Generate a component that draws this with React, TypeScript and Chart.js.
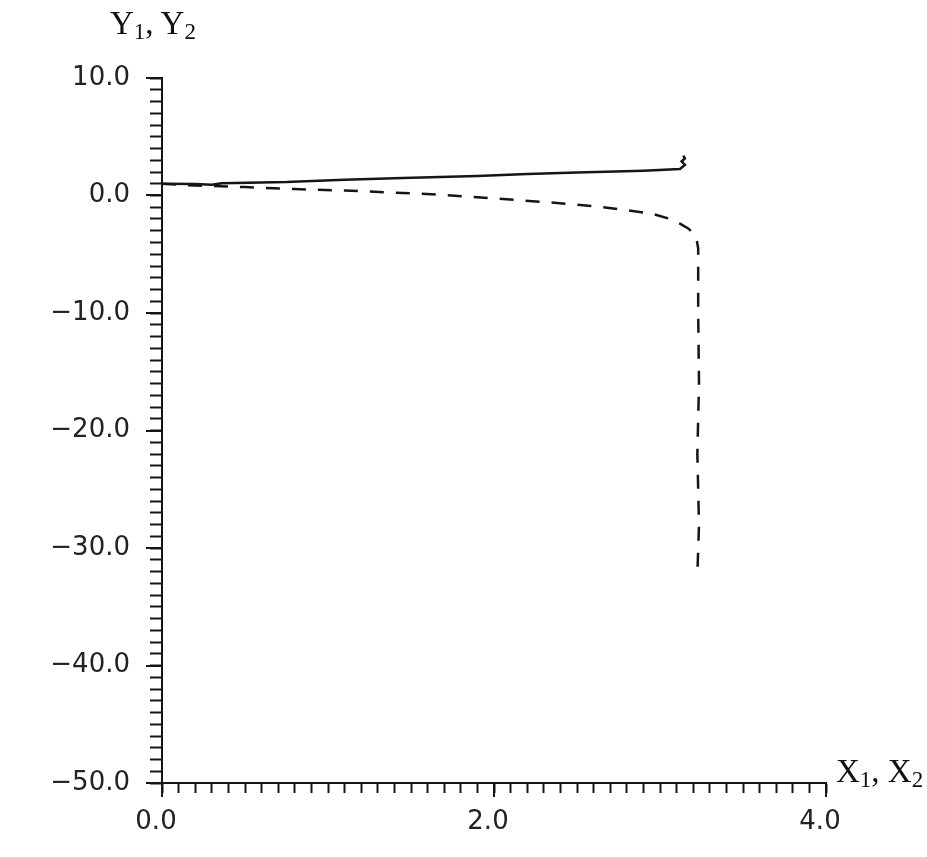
import React, { useEffect, useRef } from "react";
import { Chart, registerables } from "chart.js";

Chart.register(...registerables);

// Y1 (solid) series
const x1Values = [0, 0.2, 0.3, 0.36, 0.75, 1.1, 1.45, 1.9, 2.2, 2.5, 2.9, 3.12, 3.15, 3.13, 3.15, 3.14];
const y1Values = [1.0, 0.98, 0.92, 1.05, 1.15, 1.35, 1.48, 1.65, 1.82, 1.95, 2.1, 2.25, 2.6, 2.9, 3.15, 3.4];

// Y2 (dashed) series
const x2Values = [0, 0.2, 0.5, 0.8, 1.1, 1.4, 1.7, 2.0, 2.3, 2.6, 2.8, 2.95, 3.05, 3.12, 3.17, 3.2, 3.22, 3.23, 3.23, 3.235, 3.225, 3.235, 3.225];
const y2Values = [1.0, 0.85, 0.72, 0.55, 0.42, 0.25, 0.05, -0.25, -0.55, -0.9, -1.25, -1.55, -1.95, -2.4, -2.8, -3.2, -3.7, -4.5, -10, -16, -22, -28, -32.3];

// Axis ticks
const xMajorTicks = [0, 2, 4];
const xTickLabels = ["0.0", "2.0", "4.0"];
const yMajorTicks = [10, 0, -10, -20, -30, -40, -50];
const yTickLabels = ["10.0", "0.0", "\u221210.0", "\u221220.0", "\u221230.0", "\u221240.0", "\u221250.0"];

const INK = "#151515";

const majorTickPlugin = {
  id: "majorTicks",
  afterDraw(chart: any) {
    const { ctx } = chart;
    const xs = chart.scales.x;
    const ys = chart.scales.y;
    ctx.save();
    ctx.strokeStyle = INK;
    ctx.lineWidth = 2;
    xMajorTicks.forEach((v) => {
      const px = Math.round(xs.getPixelForValue(v));
      ctx.beginPath();
      ctx.moveTo(px, xs.top);
      ctx.lineTo(px, xs.top + 14);
      ctx.stroke();
    });
    yMajorTicks.forEach((v) => {
      const py = Math.round(ys.getPixelForValue(v));
      ctx.beginPath();
      ctx.moveTo(ys.right, py);
      ctx.lineTo(ys.right - 16, py);
      ctx.stroke();
    });
    ctx.restore();
  },
};

export default function App() {
  const canvasRef = useRef<HTMLCanvasElement | null>(null);

  useEffect(() => {
    if (!canvasRef.current) return;
    const chart = new Chart(canvasRef.current, {
      type: "line",
      data: {
        datasets: [
          {
            label: "Y1",
            data: x1Values.map((x, i) => ({ x, y: y1Values[i] })),
            borderColor: INK,
            borderWidth: 2.5,
            pointRadius: 0,
            tension: 0,
            fill: false,
          },
          {
            label: "Y2",
            data: x2Values.map((x, i) => ({ x, y: y2Values[i] })),
            borderColor: INK,
            borderWidth: 2.5,
            borderDash: [14, 12],
            pointRadius: 0,
            tension: 0,
            fill: false,
          },
        ],
      },
      options: {
        animation: false,
        responsive: false,
        maintainAspectRatio: false,
        layout: { padding: { top: 78, right: 101, left: 0, bottom: 0 } },
        plugins: { legend: { display: false }, tooltip: { enabled: false } },
        scales: {
          x: {
            type: "linear",
            min: 0,
            max: 4,
            afterFit(scale: any) {
              scale.height = 74;
            },
            border: { display: true, color: INK, width: 2 },
            grid: {
              drawOnChartArea: false,
              drawTicks: true,
              tickLength: 10,
              tickColor: INK,
              tickWidth: 2,
            },
            ticks: {
              stepSize: 0.1,
              autoSkip: false,
              maxTicksLimit: 100,
              maxRotation: 0,
              padding: 14,
              labelOffset: -6,
              color: "#222",
              font: { family: "'DejaVu Sans', sans-serif", size: 26 },
              callback: (v: any) => {
                const n = Number(v);
                const idx = xMajorTicks.findIndex((t) => Math.abs(t - n) < 1e-6);
                return idx >= 0 ? xTickLabels[idx] : "";
              },
            },
          },
          y: {
            type: "linear",
            min: -50,
            max: 10,
            afterFit(scale: any) {
              scale.width = 162;
            },
            border: { display: true, color: INK, width: 2 },
            grid: {
              drawOnChartArea: false,
              drawTicks: true,
              tickLength: 12,
              tickColor: INK,
              tickWidth: 2,
            },
            ticks: {
              stepSize: 1,
              autoSkip: false,
              maxTicksLimit: 100,
              padding: 20,
              color: "#222",
              font: { family: "'DejaVu Sans', sans-serif", size: 26 },
              callback: (v: any) => {
                const n = Number(v);
                const idx = yMajorTicks.findIndex((t) => Math.abs(t - n) < 1e-6);
                return idx >= 0 ? yTickLabels[idx] : "";
              },
            },
          },
        },
      },
      plugins: [majorTickPlugin],
    });
    return () => chart.destroy();
  }, []);

  const titleStyle: React.CSSProperties = {
    position: "absolute",
    fontFamily: "'Liberation Serif', 'Times New Roman', serif",
    fontSize: 33,
    lineHeight: "33px",
    color: "#111",
    whiteSpace: "nowrap",
  };
  const subStyle: React.CSSProperties = {
    fontSize: 23,
    position: "relative",
    top: 5,
    verticalAlign: "baseline",
  };

  return (
    <div
      style={{
        position: "fixed",
        left: 0,
        top: 0,
        width: 927,
        height: 857,
        background: "#ffffff",
      }}
    >
      <canvas ref={canvasRef} width={927} height={857} style={{ display: "block" }} />
      <div style={{ ...titleStyle, left: 110, top: 7 }}>
        Y<span style={subStyle}>1</span>, Y<span style={subStyle}>2</span>
      </div>
      <div style={{ ...titleStyle, left: 836, top: 755 }}>
        X<span style={subStyle}>1</span>, X<span style={subStyle}>2</span>
      </div>
    </div>
  );
}
